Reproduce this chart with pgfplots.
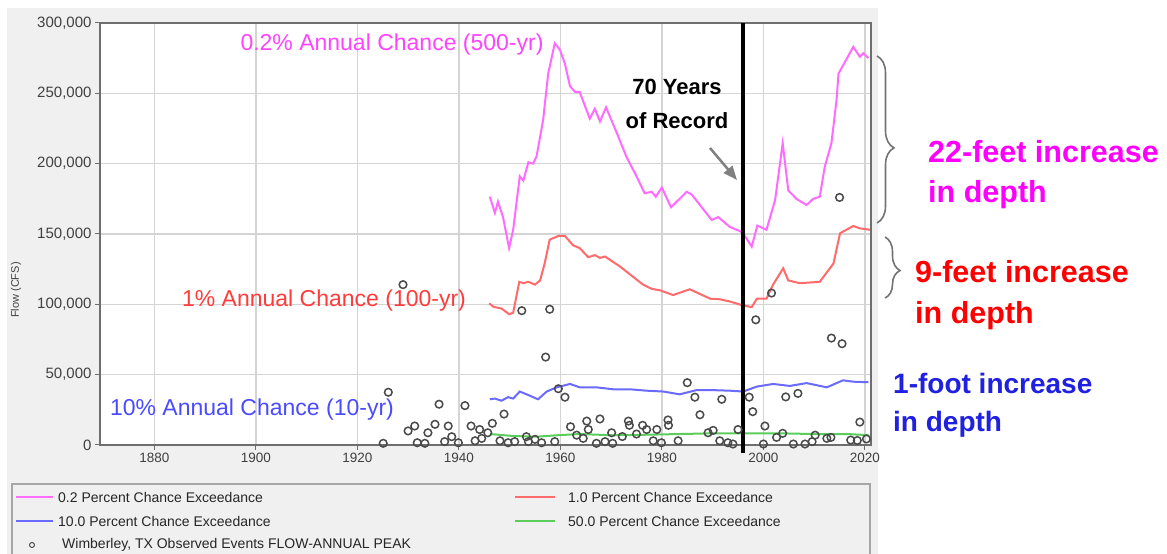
\documentclass[border=0pt]{standalone}
\usepackage{pgfplots}
\pgfplotsset{compat=1.18}
\usepackage{fontspec}
\setmainfont{Liberation Sans}
\usetikzlibrary{decorations.pathreplacing,arrows.meta}

\definecolor{bggray}{HTML}{F0F0F0}
\definecolor{c02}{HTML}{FF6BFF}
\definecolor{c1}{HTML}{FF6A6A}
\definecolor{c10}{HTML}{6A6AFF}
\definecolor{c50}{HTML}{5ACD5A}
\definecolor{t02}{HTML}{FF44FF}
\definecolor{t1}{HTML}{FF3C3C}
\definecolor{t10}{HTML}{4A4AFF}
\definecolor{a02}{HTML}{FF00FF}
\definecolor{a1}{HTML}{FF0000}
\definecolor{a10}{HTML}{2020E0}
\definecolor{obs}{HTML}{4A4A4A}
\definecolor{axgray}{HTML}{6E6E6E}
\definecolor{gridgray}{HTML}{D4D4D4}

\pgfplotstableread{
x y
1946.1 176500
1947.1 165000
1947.7 173000
1948.7 162000
1949.9 140000
1950.7 153000
1952.0 191000
1952.7 188000
1953.7 201000
1954.6 200000
1955.3 205000
1956.6 231000
1957.6 264000
1958.9 285600
1959.9 281000
1960.9 271000
1961.9 255000
1962.9 251000
1963.8 251000
1965.8 232000
1966.8 239000
1967.8 230000
1969.0 240000
1971.1 222000
1973.0 205000
1975.0 191000
1976.6 179000
1978.0 180000
1978.8 176500
1980.0 183000
1981.8 169000
1984.9 180000
1985.9 178000
1989.8 160000
1991.1 162000
1993.4 155000
1995.4 152000
1996.0 150500
1997.7 141000
1998.8 156000
2000.6 153000
2002.3 174000
2003.8 214500
2004.9 181000
2006.5 175000
2008.5 170600
2009.8 175000
2011.1 176500
2012.1 198000
2013.4 214500
2014.4 245000
2014.8 264000
2017.7 283000
2019.0 276000
2019.7 278500
2020.7 275000
}\tabA

\pgfplotstableread{
x y
1946.0 100700
1946.8 98300
1948.4 97000
1949.9 93000
1950.7 94000
1951.9 116000
1952.7 115000
1953.7 116000
1955.0 114000
1956.0 117000
1956.9 129000
1957.9 146000
1959.6 148600
1960.9 148600
1962.5 142000
1963.8 140000
1965.5 133500
1966.8 135000
1967.8 133000
1968.8 134000
1971.7 127000
1976.3 114000
1978.0 111000
1979.6 110000
1982.2 106600
1985.5 110700
1989.5 104000
1991.4 103600
1993.4 102000
1995.7 99500
1997.7 98000
1998.7 104000
2000.6 104000
2001.9 114000
2003.9 125600
2004.9 117000
2007.2 115000
2011.1 116000
2013.8 129000
2015.1 150500
2017.7 155700
2019.0 154000
2021.0 153000
}\tabB

\pgfplotstableread{
x y
1946.1 32500
1947.1 33000
1948.4 31500
1949.7 34000
1950.7 33000
1952.0 38000
1953.7 35500
1955.6 32500
1957.3 38000
1959.3 41000
1961.9 43400
1963.8 41000
1967.1 41000
1970.4 39600
1973.7 39600
1977.0 38600
1980.3 38000
1983.5 36000
1986.8 39000
1990.1 39000
1993.4 38600
1996.0 38000
1998.7 41500
2001.9 43400
2005.2 42000
2008.5 44000
2012.5 41000
2015.7 46000
2017.7 45000
2020.7 44600
}\tabC

\pgfplotstableread{
x y
1946.1 7800
1950.7 6400
1955.3 5900
1959.3 6900
1963.8 7800
1970.4 6900
1977.0 7300
1983.5 7800
1990.1 8300
1996.0 8300
2003.3 8300
2009.8 7800
2016.4 7800
2020.7 7000
}\tabD

\pgfplotstableread{
x y
1925.1 1200
1926.1 37500
1929.0 114000
1930.0 10000
1931.3 13500
1931.8 1600
1933.3 1200
1933.9 8700
1935.3 14700
1936.1 29000
1937.2 2400
1937.9 13500
1938.6 5900
1939.9 1600
1941.2 28000
1942.4 13500
1943.2 3000
1944.1 11000
1944.5 4700
1945.7 8700
1946.6 15400
1948.1 3000
1948.9 22000
1949.7 1600
1951.0 2400
1952.4 95500
1953.3 5900
1953.7 2400
1955.0 4000
1956.3 1600
1957.1 62500
1957.9 96500
1958.9 2400
1959.6 40000
1960.9 34000
1962.0 13000
1963.2 7000
1964.5 4700
1965.2 17000
1965.5 11000
1967.1 1200
1967.8 18500
1968.8 2400
1970.1 8700
1970.3 1200
1972.2 6000
1973.4 17000
1973.6 14000
1975.0 7800
1976.2 14000
1977.0 11000
1978.3 3000
1979.0 11000
1979.9 1600
1981.2 17800
1981.3 14000
1983.2 3000
1985.0 44300
1986.5 34000
1987.5 21500
1989.1 8700
1990.1 10400
1991.4 3000
1991.8 32500
1993.0 1600
1994.0 700
1995.0 11000
1997.2 34000
1997.9 23700
1998.5 89000
2000.0 700
2000.3 13500
2001.6 108000
2002.6 5400
2003.8 8300
2004.4 34200
2005.9 700
2006.8 36700
2008.2 700
2009.6 2400
2010.2 7000
2012.5 4700
2013.3 5400
2013.4 76000
2015.0 176000
2015.5 72000
2017.2 3500
2018.5 3200
2019.0 16300
2020.3 4300
}\tabE

\begin{document}
\begin{tikzpicture}[x=1pt,y=1pt]
\fill[white] (0,0) rectangle (1167,554);
\fill[bggray] (7,0) rectangle (878,546);
\fill[white] (100,109) rectangle (871,531);

\begin{axis}[
  at={(100pt,109pt)}, anchor=south west,
  scale only axis, width=771pt, height=422pt,
  xmin=1869.3, xmax=2021.2, ymin=0, ymax=300000,
  clip=false,
  xtick={1880,1900,...,2020},
  ytick={0,50000,...,300000},
  scaled ticks=false,
  /pgf/number format/.cd, fixed, 1000 sep={,}, assume math mode=true, /pgfplots/.cd,
  xticklabel style={/pgf/number format/1000 sep={}, font=\fontsize{13.5}{15}\selectfont, text=black!75},
  yticklabel style={font=\fontsize{15}{17}\selectfont, text=black!75},
  tick pos=left, tick align=outside, major tick length=5pt,
  tick style={draw=axgray, line width=1pt},
  xmajorgrids=true, ymajorgrids=true,
  grid style={draw=gridgray, line width=1.4pt},
  axis line style={draw=axgray, line width=1.6pt},
  ylabel={Flow (CFS)},
  every axis y label/.style={at={(axis description cs:-0.109,0.367)}, rotate=90, anchor=center, font=\fontsize{11}{13}\selectfont, text=black!75},
]
\addplot[c02, line width=2pt] table {\tabA};
\addplot[c1, line width=2pt] table {\tabB};
\addplot[c10, line width=2pt] table {\tabC};
\addplot[c50, line width=2pt] table {\tabD};
\addplot[only marks, mark=o, mark size=3.8pt, mark options={draw=obs, line width=1.5pt}] table {\tabE};
\addplot[black, line width=3.5pt] coordinates {(1996,-5500) (1996,300000)};
\end{axis}

% in-plot labels
\node[text=t02, font=\fontsize{23}{26}\selectfont] at (392,509) {0.2\% Annual Chance (500-yr)};
\node[text=t1, font=\fontsize{23}{26}\selectfont] at (324,253) {1\% Annual Chance (100-yr)};
\node[text=t10, font=\fontsize{23}{26}\selectfont] at (252,144) {10\% Annual Chance (10-yr)};
\node[align=center, font=\bfseries\fontsize{22}{34}\selectfont] at (677,450) {70 Years\\of Record};
\draw[-{Triangle[length=14pt,width=11pt]}, line width=2.5pt, draw=black!50, fill=black!50] (710,406) -- (737,374);

% legend
\draw[draw=black!35, line width=1.2pt] (12,-5) rectangle (870,70);
\begin{scope}[font=\fontsize{14}{16}\selectfont, text=black!85]
\draw[c02, line width=2pt] (16,57) -- (53,57);
\node[anchor=west, inner sep=0pt] at (58,57) {0.2 Percent Chance Exceedance};
\draw[c1, line width=2pt] (515,57) -- (555,57);
\node[anchor=west, inner sep=0pt] at (568,57) {1.0 Percent Chance Exceedance};
\draw[c10, line width=2pt] (16,33) -- (53,33);
\node[anchor=west, inner sep=0pt] at (58,33) {10.0 Percent Chance Exceedance};
\draw[c50, line width=2pt] (515,33) -- (555,33);
\node[anchor=west, inner sep=0pt] at (568,33) {50.0 Percent Chance Exceedance};
\draw[obs, line width=1pt] (32,9) circle (2.5);
\node[anchor=west, inner sep=0pt] at (62,9) {Wimberley, TX Observed Events FLOW-ANNUAL PEAK};
\end{scope}

% braces
\draw[black!55, line width=1.6pt, decorate, decoration={brace, amplitude=17pt, aspect=0.55}] (877,498) -- (877,331);
\draw[black!55, line width=1.6pt, decorate, decoration={brace, amplitude=15pt, aspect=0.55}] (885,317) -- (885,256);

% annotations
\node[anchor=west, inner sep=0pt, text=a02, font=\bfseries\fontsize{30.5}{34}\selectfont] at (928,402) {22-feet increase};
\node[anchor=west, inner sep=0pt, text=a02, font=\bfseries\fontsize{30.5}{34}\selectfont] at (928,359) {in depth};
\node[anchor=west, inner sep=0pt, text=a1, font=\bfseries\fontsize{30.5}{34}\selectfont] at (915,282) {9-feet increase};
\node[anchor=west, inner sep=0pt, text=a1, font=\bfseries\fontsize{30.5}{34}\selectfont] at (915,238) {in depth};
\node[anchor=west, inner sep=0pt, text=a10, font=\bfseries\fontsize{28}{32}\selectfont] at (893,171) {1-foot increase};
\node[anchor=west, inner sep=0pt, text=a10, font=\bfseries\fontsize{28}{32}\selectfont] at (893,130) {in depth};

\pgfresetboundingbox
\useasboundingbox (0,0) rectangle (1167,554);
\end{tikzpicture}
\end{document}
